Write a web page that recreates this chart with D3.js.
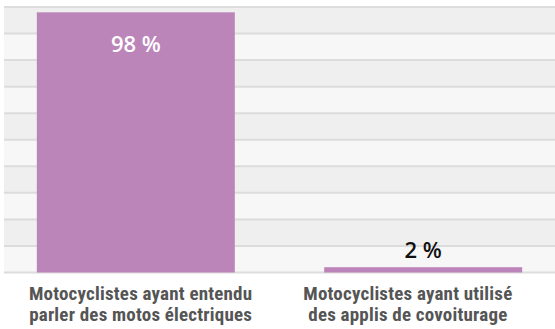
<!DOCTYPE html>
<html>
<head>
<meta charset="utf-8">
<script src="https://cdn.jsdelivr.net/npm/d3@7"></script>
<style>
  html, body { margin: 0; padding: 0; background: #ffffff; }
  svg { display: block; }
</style>
</head>
<body>
<svg id="chart" width="555" height="329"></svg>
<script>
// Survey shares among motorcyclists (percent)
const categories = [
  ["Motocyclistes ayant entendu", "parler des motos électriques"],
  ["Motocyclistes ayant utilisé", "des applis de covoiturage"]
];
const values = [98, 2];
const valueLabels = ["98 %", "2 %"];
const gridTicks = [0, 10, 20, 30, 40, 50, 60, 70, 80, 90, 100];

const svg = d3.select("#chart");
const plotLeft = 4, plotRight = 555;

const y = d3.scaleLinear().domain([0, 100]).range([272.5, 7]);
const x = d3.scaleBand().domain(d3.range(values.length)).range([-8, 567]).paddingInner(0.311).paddingOuter(0.156);
const xLabel = d3.scaleBand().domain(d3.range(values.length)).range([7, 541.5]);

// alternating horizontal bands
const bands = d3.pairs(gridTicks);
svg.append("g").selectAll("rect").data(bands).join("rect")
  .attr("x", plotLeft)
  .attr("width", plotRight - plotLeft)
  .attr("y", d => y(d[1]))
  .attr("height", d => y(d[0]) - y(d[1]))
  .attr("fill", (d, i) => (gridTicks.length - 2 - i) % 2 === 0 ? "#efefef" : "#f7f7f7");

// gridlines
svg.append("g").selectAll("line").data(gridTicks).join("line")
  .attr("x1", plotLeft).attr("x2", plotRight)
  .attr("y1", d => y(d)).attr("y2", d => y(d))
  .attr("stroke", "#dcdcdc").attr("stroke-width", 2);

// bars
svg.append("g").selectAll("rect").data(values).join("rect")
  .attr("x", (d, i) => x(i))
  .attr("width", x.bandwidth())
  .attr("y", d => y(d))
  .attr("height", d => y(0) - y(d))
  .attr("fill", "#bc85b9");

// value labels
svg.append("g").selectAll("text").data(values).join("text")
  .attr("x", (d, i) => x(i) + x.bandwidth() / 2)
  .attr("y", d => d > 50 ? y(d) + 40 : y(d) - 9)
  .attr("text-anchor", "middle")
  .attr("font-family", "'Open Sans', sans-serif")
  .attr("font-weight", 600)
  .attr("font-size", 22)
  .attr("fill", d => d > 50 ? "#ffffff" : "#111111")
  .text((d, i) => valueLabels[i]);

// category labels, one text element per line
const lineGap = 21.5;
const catLines = categories.flatMap((lines, i) => lines.map((t, j) => ({ i, j, t })));
svg.append("g").selectAll("text").data(catLines).join("text")
  .attr("x", d => xLabel(d.i) + xLabel.bandwidth() / 2)
  .attr("y", d => 299.5 + d.j * lineGap)
  .attr("text-anchor", "middle")
  .attr("font-family", "'Liberation Sans Narrow', 'Roboto Condensed', sans-serif")
  .attr("font-weight", 700)
  .attr("font-size", 19)
  .attr("letter-spacing", 0.2)
  .attr("fill", "#555555")
  .text(d => d.t);
</script>
</body>
</html>
